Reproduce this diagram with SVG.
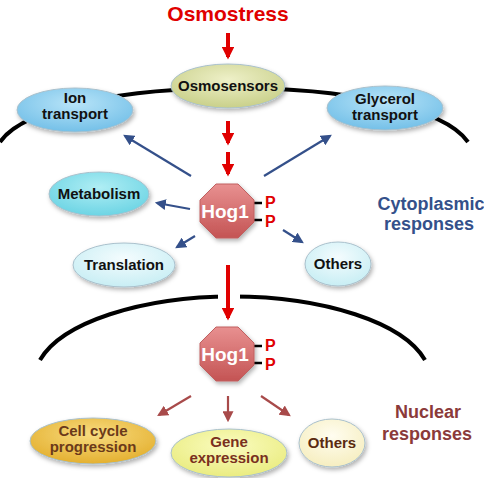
<svg xmlns="http://www.w3.org/2000/svg" width="484" height="478" viewBox="0 0 484 478">
<defs>
<style>
.lbl{font-family:"Liberation Sans",Arial,sans-serif;font-weight:bold;font-size:15px;text-anchor:middle;fill:#111}
.big{font-family:"Liberation Sans",Arial,sans-serif;font-weight:bold;text-anchor:middle}
.mem{fill:none;stroke:#000;stroke-width:4}
.red{stroke:#e00000;stroke-width:4;fill:none}
.blue{stroke:#34508a;stroke-width:2.2;fill:none}
.brown{stroke:#a84a4a;stroke-width:2.2;fill:none}
.node{stroke:#a9c0cc;stroke-width:1;filter:url(#sh)}
.p{font-family:"Liberation Sans",Arial,sans-serif;font-weight:bold;font-size:16px;fill:#e00000}
.tick{stroke:#000;stroke-width:2.5;fill:none}
</style>
<filter id="sh" x="-20%" y="-20%" width="140%" height="150%">
<feDropShadow dx="1.5" dy="2.5" stdDeviation="2" flood-color="#000" flood-opacity="0.3"/>
</filter>
<radialGradient id="gOsmo" cx="50%" cy="35%" r="65%"><stop offset="0" stop-color="#eef0c8"/><stop offset="1" stop-color="#c9d08a"/></radialGradient>
<radialGradient id="gBlue" cx="50%" cy="35%" r="65%"><stop offset="0" stop-color="#b8e4f8"/><stop offset="1" stop-color="#74c0e8"/></radialGradient>
<radialGradient id="gCyan" cx="50%" cy="35%" r="65%"><stop offset="0" stop-color="#b0eef4"/><stop offset="1" stop-color="#6cd4e4"/></radialGradient>
<radialGradient id="gPale" cx="50%" cy="35%" r="65%"><stop offset="0" stop-color="#f4fcfe"/><stop offset="1" stop-color="#c8eef4"/></radialGradient>
<radialGradient id="gGold" cx="50%" cy="35%" r="65%"><stop offset="0" stop-color="#f8dc80"/><stop offset="1" stop-color="#e4b030"/></radialGradient>
<radialGradient id="gYel" cx="50%" cy="35%" r="65%"><stop offset="0" stop-color="#fafcc0"/><stop offset="1" stop-color="#eaec80"/></radialGradient>
<radialGradient id="gCream" cx="50%" cy="35%" r="65%"><stop offset="0" stop-color="#fffdf0"/><stop offset="1" stop-color="#f6eec0"/></radialGradient>
<linearGradient id="gHog" x1="0" y1="0" x2="0" y2="1"><stop offset="0" stop-color="#e89090"/><stop offset="1" stop-color="#c45454"/></linearGradient>
<marker id="aRed" viewBox="0 0 10 10" refX="8" refY="5" markerWidth="3.2" markerHeight="3.2" orient="auto"><path d="M0 0L10 5L0 10z" fill="#e00000"/></marker>
<marker id="aBlue" viewBox="0 0 10 10" refX="8" refY="5" markerWidth="5" markerHeight="5" orient="auto"><path d="M0 0L10 5L0 10z" fill="#34508a"/></marker>
<marker id="aBrown" viewBox="0 0 10 10" refX="8" refY="5" markerWidth="5" markerHeight="5" orient="auto"><path d="M0 0L10 5L0 10z" fill="#a84a4a"/></marker>
<polygon id="oct" points="-11,-27 11,-27 27,-11 27,11 11,27 -11,27 -27,11 -27,-11"/>
</defs>
<rect width="484" height="478" fill="#fff"/>

<g id="membranes">
<path class="mem" d="M0 142 C 50 70 418 70 468 142"/>
<path class="mem" d="M40 360 A 198 83 0 0 1 425 360"/>
<rect x="218" y="288" width="22" height="18" fill="#fff"/>
</g>

<g id="labels">
<text class="big" x="228" y="21" font-size="21" fill="#e00000">Osmostress</text>
<text class="big" x="431" y="210" font-size="18" fill="#34508a">Cytoplasmic</text>
<text class="big" x="429" y="230" font-size="18" fill="#34508a">responses</text>
<text class="big" x="428" y="418" font-size="18" fill="#8b3a3a">Nuclear</text>
<text class="big" x="427" y="440" font-size="18" fill="#8b3a3a">responses</text>
</g>

<g id="connectors">
<line class="red" x1="228" y1="33" x2="228" y2="57" marker-end="url(#aRed)"/>
<line class="red" x1="228" y1="121" x2="228" y2="143" marker-end="url(#aRed)"/>
<line class="red" x1="228" y1="152" x2="228" y2="174" marker-end="url(#aRed)"/>
<line class="red" x1="228" y1="265" x2="228" y2="318" marker-end="url(#aRed)"/>
<line class="blue" x1="191" y1="176" x2="125" y2="136" marker-end="url(#aBlue)"/>
<line class="blue" x1="264" y1="176" x2="330" y2="136" marker-end="url(#aBlue)"/>
<line class="blue" x1="190" y1="209" x2="157" y2="203" marker-end="url(#aBlue)"/>
<line class="blue" x1="195" y1="236" x2="177" y2="247" marker-end="url(#aBlue)"/>
<line class="blue" x1="283" y1="230" x2="302" y2="242" marker-end="url(#aBlue)"/>
<line class="brown" x1="191" y1="396" x2="159" y2="415" marker-end="url(#aBrown)"/>
<line class="brown" x1="228" y1="396" x2="228" y2="420" marker-end="url(#aBrown)"/>
<line class="brown" x1="261" y1="396" x2="289" y2="415" marker-end="url(#aBrown)"/>
</g>

<g id="osmosensors">
<ellipse class="node" cx="228" cy="86" rx="57" ry="22" fill="url(#gOsmo)" stroke="#b8bc80"/>
<text class="lbl" x="228" y="91">Osmosensors</text>
</g>
<g id="ion-transport">
<ellipse class="node" cx="75" cy="110" rx="58" ry="22" fill="url(#gBlue)"/>
<text class="lbl" x="75" y="103">Ion</text>
<text class="lbl" x="75" y="119">transport</text>
</g>
<g id="glycerol-transport">
<ellipse class="node" cx="385" cy="108" rx="58" ry="22" fill="url(#gBlue)"/>
<text class="lbl" x="385" y="104">Glycerol</text>
<text class="lbl" x="385" y="120">transport</text>
</g>
<g id="metabolism">
<ellipse class="node" cx="99" cy="194" rx="50" ry="22" fill="url(#gCyan)"/>
<text class="lbl" x="99" y="199">Metabolism</text>
</g>
<g id="translation">
<ellipse class="node" cx="124" cy="265" rx="51" ry="22" fill="url(#gPale)"/>
<text class="lbl" x="124" y="270">Translation</text>
</g>
<g id="others-cyto">
<ellipse class="node" cx="338" cy="264" rx="33" ry="22" fill="url(#gPale)"/>
<text class="lbl" x="338" y="269">Others</text>
</g>

<g id="hog1-cyto">
<path class="tick" d="M253 203H262M253 220H262"/>
<use href="#oct" x="227" y="211" fill="url(#gHog)" stroke="#c06060" stroke-width="1" filter="url(#sh)"/>
<text class="big" x="225" y="218" font-size="19" fill="#fff">Hog1</text>
<text class="p" x="265" y="208">P</text>
<text class="p" x="265" y="227">P</text>
</g>
<g id="hog1-nuc">
<path class="tick" d="M253 346H262M253 363H262"/>
<use href="#oct" x="227" y="354" fill="url(#gHog)" stroke="#c06060" stroke-width="1" filter="url(#sh)"/>
<text class="big" x="225" y="361" font-size="19" fill="#fff">Hog1</text>
<text class="p" x="265" y="351">P</text>
<text class="p" x="265" y="370">P</text>
</g>

<g id="cell-cycle">
<ellipse class="node" cx="93" cy="441" rx="63" ry="23" fill="url(#gGold)" stroke="#c8a040"/>
<text class="lbl" x="93" y="436" style="fill:#6b3a1a">Cell cycle</text>
<text class="lbl" x="93" y="452" style="fill:#6b3a1a">progression</text>
</g>
<g id="gene-expression">
<ellipse class="node" cx="229" cy="453" rx="58" ry="24" fill="url(#gYel)" stroke="#c8c880"/>
<text class="lbl" x="229" y="447" style="fill:#7a3020">Gene</text>
<text class="lbl" x="229" y="463" style="fill:#7a3020">expression</text>
</g>
<g id="others-nuc">
<ellipse class="node" cx="332" cy="443" rx="33" ry="24" fill="url(#gCream)" stroke="#d8cc98"/>
<text class="lbl" x="332" y="448" style="fill:#5a2a10">Others</text>
</g>
</svg>
